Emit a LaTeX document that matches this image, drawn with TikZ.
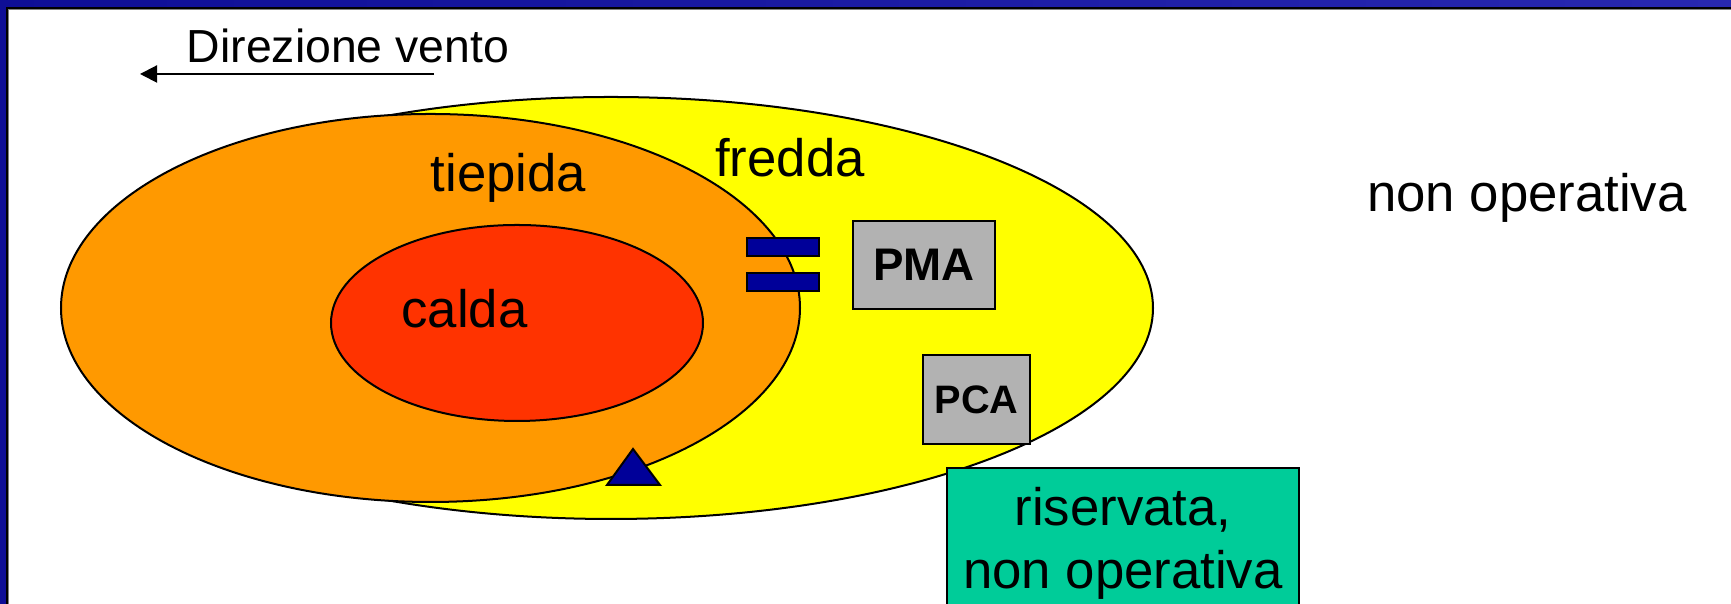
\documentclass[tikz,border=0pt]{standalone}
\usepackage{fontspec}
\setmainfont{Liberation Sans}
\usepackage{tikz}
\usetikzlibrary{arrows.meta}
\usetikzlibrary{shapes.geometric}

\definecolor{zonayellow}{HTML}{FFFF00}
\definecolor{zonaorange}{HTML}{FF9900}
\definecolor{zonared}{HTML}{FF3300}
\definecolor{zonagreen}{HTML}{00CC99}
\definecolor{boxgray}{HTML}{B2B2B2}
\definecolor{navy}{HTML}{000099}
\definecolor{frameblue}{HTML}{0E0E96}
\definecolor{frameblueR}{HTML}{2828B0}

\begin{document}
\begin{tikzpicture}[line width=0.57pt,
   zone_style/.style={ellipse, draw=black, inner sep=0pt},
   box_style/.style={rectangle, draw=black, fill=boxgray, inner sep=0pt, font=\fontsize{13}{15}\selectfont\bfseries},
   bar_style/.style={rectangle, draw=black, fill=navy, inner sep=0pt, minimum width=0.72cm, minimum height=0.18cm},
   label_style/.style={anchor=base, inner sep=0pt, font=\fontsize{15}{18}\selectfont}]
	\clip (0,0) rectangle (17.31,6.04);

	% zones
	\node [zone_style, fill=zonayellow, minimum width=10.84cm, minimum height=4.22cm] (fredda) at (6.11,2.96) {};
	\node [zone_style, fill=zonaorange, minimum width=7.39cm, minimum height=3.88cm] (tiepida) at (4.305,2.96) {};
	\node [zone_style, fill=zonared, minimum width=3.72cm, minimum height=1.96cm] (calda) at (5.17,2.81) {};

	\node [label_style] (l_tiepida) at (5.085,4.12) {tiepida};
	\node [label_style] (l_fredda) at (7.90,4.27) {fredda};
	\node [label_style] (l_calda) at (4.645,2.76) {calda};
	\node [label_style] (l_nonop) at (15.27,3.92) {non operativa};

	% wind
	\node [label_style, font=\fontsize{13.2}{15}\selectfont] (vento) at (3.48,5.41) {Direzione vento};
	\coordinate (vento_a) at (4.34,5.30);
	\coordinate (vento_b) at (1.40,5.30);
	\draw [-{Triangle[length=1.7mm,width=1.7mm]}] (vento_a) -- (vento_b);

	% posts
	\foreach \name/\y in {bar1/3.57, bar2/3.22}
	  \node [bar_style] (\name) at (7.83,\y) {};
	\node [box_style, minimum width=1.42cm, minimum height=0.88cm] (pma) at (9.24,3.39) {PMA};
	\node [box_style, minimum width=1.07cm, minimum height=0.89cm, font=\fontsize{11.3}{13}\selectfont\bfseries] (pca) at (9.765,2.045) {PCA};
	\draw [fill=navy] (6.07,1.19) -- (6.33,1.55) -- (6.60,1.19) -- cycle;

	\node [rectangle, draw=black, fill=zonagreen, align=center, anchor=north, minimum width=3.52cm,
	  inner xsep=0pt, inner ysep=5.5pt, font=\fontsize{15}{18}\selectfont] (riservata) at (11.23,1.37) {riservata,\\non operativa};

	% frame
	\shade [left color=frameblue, right color=frameblueR] (0,5.97) rectangle (17.31,6.04);
	\fill [black] (0,5.95) rectangle (17.31,5.97);
	\fill [gray] (0.08,5.94) rectangle (17.31,5.95);
	\fill [frameblue] (0,0) rectangle (0.06,6.04);
	\fill [black] (0.06,0) rectangle (0.08,5.95);
	\fill [gray] (0.08,0) rectangle (0.09,5.94);
\end{tikzpicture}
\end{document}
